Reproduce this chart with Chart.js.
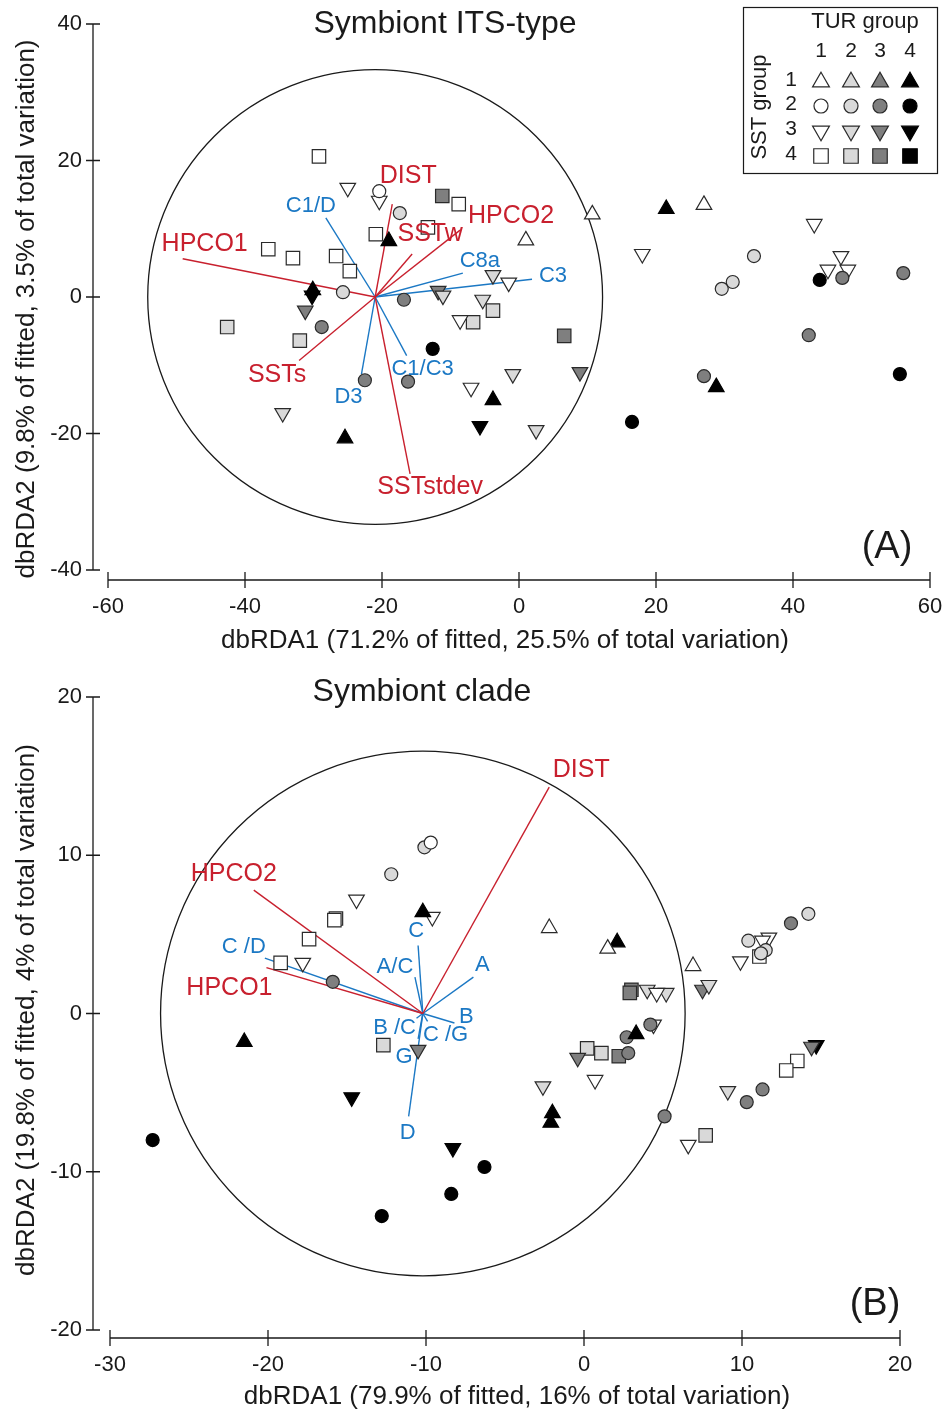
<!DOCTYPE html>
<html>
<head>
<meta charset="utf-8">
<script src="https://cdn.jsdelivr.net/npm/chart.js@4.4.0/dist/chart.umd.min.js"></script>
<style>
  body { margin: 0; background: #fff; }
  .panel { position: absolute; left: 0; }
  #wrapA { top: 0; }
  #wrapB { top: 660px; }
</style>
</head>
<body>
<div class="panel" id="wrapA"><canvas id="chartA" width="945" height="660"></canvas></div>
<div class="panel" id="wrapB"><canvas id="chartB" width="945" height="752"></canvas></div>
<script>
// ---- panel A: symbiont ITS-type ----
// sst = SST group (shape), tur = TUR group (fill)
const itsX = [-29.2, -36.6, -33.0, -26.7, -24.7, -20.9, -13.3, -8.8,
  -42.6, -32.0, -6.7, -3.8,
  -11.2, 6.6,
  10.7, 1.0, 27.0,
  -19.0, -30.1, -25.4, -3.8, 21.5, 28.8,
  -20.4,
  -17.4, -25.7, 34.3, 31.2, 29.6,
  -16.8, -28.8, -22.5, -16.2, 42.3, 27.0, 47.2, 56.1,
  -12.6, 16.5, 43.9, 55.6,
  -25.0, -20.4, -1.5, -8.6, -7.0, 18.0, 43.1, 47.0, 45.1, 48.0,
  -3.8, -5.3, -11.1, -34.5, -0.9, 2.5,
  -31.2, -11.8, 8.9,
  -30.2, -5.7];
const itsY = [20.6, 7.0, 5.7, 6.0, 3.8, 9.2, 10.2, 13.6,
  -4.4, -6.4, -3.7, -2.0,
  14.8, -5.7,
  12.1, 8.3, 13.5,
  8.2, 1.0, -20.7, -15.1, 12.9, -13.2,
  15.5,
  12.3, 0.7, 6.0, 2.2, 1.2,
  -0.4, -4.4, -12.2, -12.4, -5.6, -11.6, 2.8, 3.5,
  -7.6, -18.3, 2.5, -11.3,
  16.0, 14.1, 2.1, -3.4, -13.3, 6.3, 10.7, 6.0, 4.0, 4.0,
  3.2, -0.4, 0.2, -17.0, -11.3, -19.5,
  -2.0, 0.9, -11.0,
  0.2, -18.9];
const itsSst = [4, 4, 4, 4, 4, 4, 4, 4, 4, 4, 4, 4, 4, 4,
  1, 1, 1, 1, 1, 1, 1, 1, 1,
  2, 2, 2, 2, 2, 2, 2, 2, 2, 2, 2, 2, 2, 2, 2, 2, 2, 2,
  3, 3, 3, 3, 3, 3, 3, 3, 3, 3, 3, 3, 3, 3, 3, 3, 3, 3, 3, 3, 3];
const itsTur = [1, 1, 1, 1, 1, 1, 1, 1, 2, 2, 2, 2, 3, 3,
  1, 1, 1, 4, 4, 4, 4, 4, 4,
  1, 2, 2, 2, 2, 2, 3, 3, 3, 3, 3, 3, 3, 3, 4, 4, 4, 4,
  1, 1, 1, 1, 1, 1, 1, 1, 1, 1, 2, 2, 2, 2, 2, 2, 3, 3, 3, 4, 4];

const itsEnvNames = ['HPCO1', 'DIST', 'SSTw', 'HPCO2', 'SSTs', 'SSTstdev'];
const itsEnvX = [-49.1, -18.5, -15.6, -8.6, -32.1, -15.9];
const itsEnvY = [5.6, 13.6, 6.3, 9.8, -9.3, -25.9];
const itsTypeNames = ['C1/D', 'C8a', 'C3', 'C1/C3', 'D3'];
const itsTypeX = [-28.2, -8.2, 1.9, -16.4, -23.0];
const itsTypeY = [11.6, 3.5, 2.6, -8.6, -11.3];
const itsOrigin = [-21.0, 0];
const itsRadius = 33.2;
const itsXTicks = [-60, -40, -20, 0, 20, 40, 60];
const itsYTicks = [-40, -20, 0, 20, 40];

// ---- panel B: symbiont clade ----
const cladeX = [-9.7,
  -10.1, -12.2, 10.4, 14.2, 11.5, 11.2,
  -15.9, 13.1, 4.2, 2.7, 2.8, 5.1, 11.3, 10.3,
  -27.3, -6.3, -8.4, -12.8,
  -15.7, -15.8, -17.4, -19.2, 11.1, 13.5, 12.8,
  -12.7, 0.2, 1.1, 7.7,
  3.0, 2.9, 2.2,
  -2.2, 1.5, 6.9,
  -10.2, -21.5, 2.1, 3.3, -2.0, -2.1,
  -14.4, -17.8, -9.6, 4.6, 0.7, 11.7, 11.3, 9.9, 6.6, 4.4,
  4.0, 5.2, 7.9, -2.6, 9.1,
  -10.5, 7.5, -0.4, 14.4,
  -14.7, -8.3, 14.7];
const cladeY = [10.8,
  10.5, 8.8, 4.6, 6.3, 4.0, 3.8,
  2.0, 5.7, -0.7, -1.5, -2.5, -6.5, -4.8, -5.6,
  -8.0, -9.7, -11.4, -12.8,
  6.0, 5.9, 4.7, 3.2, 3.6, -3.0, -3.6,
  -2.0, -2.2, -2.5, -7.7,
  1.5, 1.3, -2.7,
  5.4, 4.1, 3.0,
  6.4, -1.8, 4.5, -1.3, -6.3, -6.9,
  7.2, 3.2, 6.1, 1.3, -4.2, 4.8, 4.6, 3.3, -8.3, -0.7,
  1.5, 1.3, 1.8, -4.6, -4.9,
  -2.3, 1.5, -2.8, -2.1,
  -5.3, -8.5, -2.0];
const cladeSst = [2, 2, 2, 2, 2, 2, 2, 2, 2, 2, 2, 2, 2, 2, 2, 2, 2, 2, 2,
  4, 4, 4, 4, 4, 4, 4, 4, 4, 4, 4, 4, 4, 4,
  1, 1, 1, 1, 1, 1, 1, 1, 1,
  3, 3, 3, 3, 3, 3, 3, 3, 3, 3, 3, 3, 3, 3, 3, 3, 3, 3, 3, 3, 3, 3];
const cladeTur = [1, 2, 2, 2, 2, 2, 2, 3, 3, 3, 3, 3, 3, 3, 3, 4, 4, 4, 4,
  1, 1, 1, 1, 1, 1, 1, 2, 2, 2, 2, 3, 3, 3,
  1, 1, 1, 4, 4, 4, 4, 4, 4,
  1, 1, 1, 1, 1, 1, 1, 1, 1, 1, 2, 2, 2, 2, 2, 3, 3, 3, 3, 4, 4, 4];

const cladeEnvNames = ['DIST', 'HPCO2', 'HPCO1'];
const cladeEnvX = [-2.2, -20.9, -20.1];
const cladeEnvY = [14.3, 7.8, 2.9];
const cladeTypeNames = ['C /D', 'C', 'A/C', 'A', 'B', 'B /C', 'C /G', 'G', 'D'];
const cladeTypeX = [-20.2, -10.5, -10.7, -7.0, -8.2, -10.6, -9.9, -10.5, -11.1];
const cladeTypeY = [3.5, 4.3, 2.3, 2.3, -0.6, -0.3, -0.5, -1.6, -6.5];
const cladeOrigin = [-10.2, 0];
const cladeRadius = 16.6;
const cladeXTicks = [-30, -20, -10, 0, 10, 20];
const cladeYTicks = [-20, -10, 0, 10, 20];

// label offsets in pixels from the arrow tip
const itsLabelShift = {
  'HPCO1': [22, -15], 'DIST': [16, -28], 'SSTw': [18, -20], 'HPCO2': [51, -14],
  'SSTs': [-22, 15], 'SSTstdev': [20, 13],
  'C1/D': [-15, -12], 'C8a': [17, -12], 'C3': [21, -3], 'C1/C3': [16, 13], 'D3': [-13, 23]
};
const cladeLabelShift = {
  'DIST': [32, -17], 'HPCO2': [-20, -16], 'HPCO1': [-37, 21],
  'C /D': [-21, -11], 'C': [-2, -15], 'A/C': [-20, -10], 'A': [9, -12], 'B': [12, -6],
  'B /C': [-22, 10], 'C /G': [18, 14], 'G': [-14, 18], 'D': [-1, 17]
};

const FONT = '"Liberation Sans", Arial, sans-serif';
const RED = '#c8202e';
const BLUE = '#1b78c4';
const INK = '#1a1a1a';
const fills = ['#ffffff', '#d9d9d9', '#7f7f7f', '#000000'];
const shapes = [
  { pointStyle: 'triangle', rotation: 0, radius: 9 },
  { pointStyle: 'circle', rotation: 0, radius: 6.5 },
  { pointStyle: 'triangle', rotation: 180, radius: 9 },
  { pointStyle: 'rect', rotation: 0, radius: 9.5 }
];

function pointSets(xs, ys, sst, tur) {
  const sets = [];
  for (let s = 1; s <= 4; s++) {
    for (let t = 1; t <= 4; t++) {
      const data = [];
      xs.forEach((x, i) => {
        if (sst[i] === s && tur[i] === t) data.push({ x: x, y: ys[i] });
      });
      if (!data.length) continue;
      const sh = shapes[s - 1];
      sets.push({
        type: 'scatter',
        data: data,
        pointStyle: sh.pointStyle,
        pointRotation: sh.rotation,
        pointRadius: sh.radius,
        pointBackgroundColor: fills[t - 1],
        pointBorderColor: t === 4 ? '#000' : '#2a2a2a',
        pointBorderWidth: 1.2,
        clip: false,
        order: 1
      });
    }
  }
  return sets;
}

function vectorSets(origin, xs, ys, color) {
  return xs.map((x, i) => ({
    type: 'line',
    data: [{ x: origin[0], y: origin[1] }, { x: x, y: ys[i] }],
    borderColor: color,
    borderWidth: 1.4,
    pointRadius: 0,
    fill: false,
    clip: false,
    order: 2
  }));
}

function text(ctx, str, x, y, size, color, align, rot) {
  ctx.save();
  ctx.font = size + 'px ' + FONT;
  ctx.fillStyle = color;
  ctx.textAlign = align || 'center';
  ctx.textBaseline = 'middle';
  ctx.translate(x, y);
  if (rot) ctx.rotate(rot);
  ctx.fillText(str, 0, 0);
  ctx.restore();
}

function drawLegend(ctx) {
  ctx.save();
  ctx.strokeStyle = INK;
  ctx.lineWidth = 1.2;
  ctx.strokeRect(743.5, 7.5, 194, 166);
  ctx.restore();
  text(ctx, 'TUR group', 865, 22, 22, INK);
  text(ctx, 'SST group', 760, 107, 22, INK, 'center', -Math.PI / 2);
  const cols = [821, 851, 880, 910];
  const rows = [82, 106, 131, 156];
  cols.forEach((cx, t) => text(ctx, String(t + 1), cx, 51, 21, INK));
  rows.forEach((ry, s) => {
    text(ctx, String(s + 1), 791, ry - 2, 21, INK);
    cols.forEach((cx, t) => {
      const sh = shapes[s];
      ctx.save();
      ctx.fillStyle = fills[t];
      ctx.strokeStyle = t === 3 ? '#000' : '#2a2a2a';
      ctx.lineWidth = 1.2;
      Chart.helpers.drawPoint(ctx, {
        pointStyle: sh.pointStyle, rotation: sh.rotation,
        radius: sh.radius * 1.08, borderWidth: 1.2
      }, cx, ry);
      ctx.restore();
    });
  });
}

const panelDecor = {
  id: 'panelDecor',
  beforeDatasetsDraw(chart, args, o) {
    const ctx = chart.ctx;
    const xs = chart.scales.x, ys = chart.scales.y;
    const cx = xs.getPixelForValue(o.origin[0]);
    const cy = ys.getPixelForValue(o.origin[1]);
    const r = xs.getPixelForValue(o.origin[0] + o.radius) - cx;
    ctx.save();
    ctx.beginPath();
    ctx.arc(cx, cy, r, 0, Math.PI * 2);
    ctx.lineWidth = 1.3;
    ctx.strokeStyle = INK;
    ctx.stroke();
    ctx.restore();
  },
  afterDatasetsDraw(chart, args, o) {
    const ctx = chart.ctx;
    const a = chart.chartArea;
    const xs = chart.scales.x, ys = chart.scales.y;

    // vector labels
    const lab = (names, vx, vy, color, size) => names.forEach((n, i) => {
      const sh = o.shift[n] || [0, 0];
      text(ctx, n, xs.getPixelForValue(vx[i]) + sh[0], ys.getPixelForValue(vy[i]) + sh[1], size, color);
    });
    lab(o.envNames, o.envX, o.envY, RED, 25);
    lab(o.typeNames, o.typeX, o.typeY, BLUE, 22);

    // detached axes
    ctx.save();
    ctx.strokeStyle = INK;
    ctx.lineWidth = 1.3;
    const ax = a.left - o.yGap;
    const ay = a.bottom + o.xGap;
    ctx.beginPath();
    ctx.moveTo(ax, a.top);
    ctx.lineTo(ax, a.bottom);
    o.yTicks.forEach(v => {
      const py = ys.getPixelForValue(v);
      ctx.moveTo(ax - 7, py);
      ctx.lineTo(ax + 7, py);
    });
    ctx.moveTo(a.left, ay);
    ctx.lineTo(a.right, ay);
    o.xTicks.forEach(v => {
      const px = xs.getPixelForValue(v);
      ctx.moveTo(px, ay - 8);
      ctx.lineTo(px, ay + 8);
    });
    ctx.stroke();
    ctx.restore();
    o.yTicks.forEach(v => text(ctx, String(v), ax - 11, ys.getPixelForValue(v), 22, INK, 'right'));
    o.xTicks.forEach(v => text(ctx, String(v), xs.getPixelForValue(v), ay + 27, 22, INK));

    text(ctx, o.xTitle, o.xTitlePos[0], o.xTitlePos[1], 26, INK);
    text(ctx, o.yTitle, o.yTitlePos[0], o.yTitlePos[1], 26, INK, 'center', -Math.PI / 2);
    text(ctx, o.title, o.titlePos[0], o.titlePos[1], 32, INK);
    text(ctx, o.letter, o.letterPos[0], o.letterPos[1], 38, INK);
    if (o.legend) drawLegend(ctx);
  }
};

function makeChart(id, cfg) {
  return new Chart(document.getElementById(id), {
    type: 'scatter',
    data: {
      datasets: [
        ...vectorSets(cfg.origin, cfg.envX, cfg.envY, RED),
        ...vectorSets(cfg.origin, cfg.typeX, cfg.typeY, BLUE),
        ...cfg.points
      ]
    },
    options: {
      responsive: false,
      animation: false,
      events: [],
      layout: { padding: cfg.padding },
      scales: {
        x: { type: 'linear', min: cfg.xTicks[0], max: cfg.xTicks[cfg.xTicks.length - 1], display: false },
        y: { type: 'linear', min: cfg.yTicks[0], max: cfg.yTicks[cfg.yTicks.length - 1], display: false }
      },
      plugins: {
        legend: { display: false },
        tooltip: { enabled: false },
        panelDecor: cfg
      }
    },
    plugins: [panelDecor]
  });
}

makeChart('chartA', {
  points: pointSets(itsX, itsY, itsSst, itsTur),
  origin: itsOrigin, radius: itsRadius,
  envNames: itsEnvNames, envX: itsEnvX, envY: itsEnvY,
  typeNames: itsTypeNames, typeX: itsTypeX, typeY: itsTypeY,
  shift: itsLabelShift,
  xTicks: itsXTicks, yTicks: itsYTicks,
  padding: { left: 108, right: 15, top: 24, bottom: 90 },
  yGap: 15, xGap: 10,
  title: 'Symbiont ITS-type', titlePos: [445, 24],
  xTitle: 'dbRDA1 (71.2% of fitted, 25.5% of total variation)', xTitlePos: [505, 641],
  yTitle: 'dbRDA2 (9.8% of fitted, 3.5% of total variation)', yTitlePos: [27, 309],
  letter: '(A)', letterPos: [887, 548],
  legend: true
});

makeChart('chartB', {
  points: pointSets(cladeX, cladeY, cladeSst, cladeTur),
  origin: cladeOrigin, radius: cladeRadius,
  envNames: cladeEnvNames, envX: cladeEnvX, envY: cladeEnvY,
  typeNames: cladeTypeNames, typeX: cladeTypeX, typeY: cladeTypeY,
  shift: cladeLabelShift,
  xTicks: cladeXTicks, yTicks: cladeYTicks,
  padding: { left: 110, right: 45, top: 37, bottom: 82 },
  yGap: 17, xGap: 8,
  title: 'Symbiont clade', titlePos: [422, 32],
  xTitle: 'dbRDA1 (79.9% of fitted, 16% of total variation)', xTitlePos: [517, 737],
  yTitle: 'dbRDA2 (19.8% of fitted, 4% of total variation)', yTitlePos: [27, 350],
  letter: '(B)', letterPos: [875, 645],
  legend: false
});
</script>
</body>
</html>
